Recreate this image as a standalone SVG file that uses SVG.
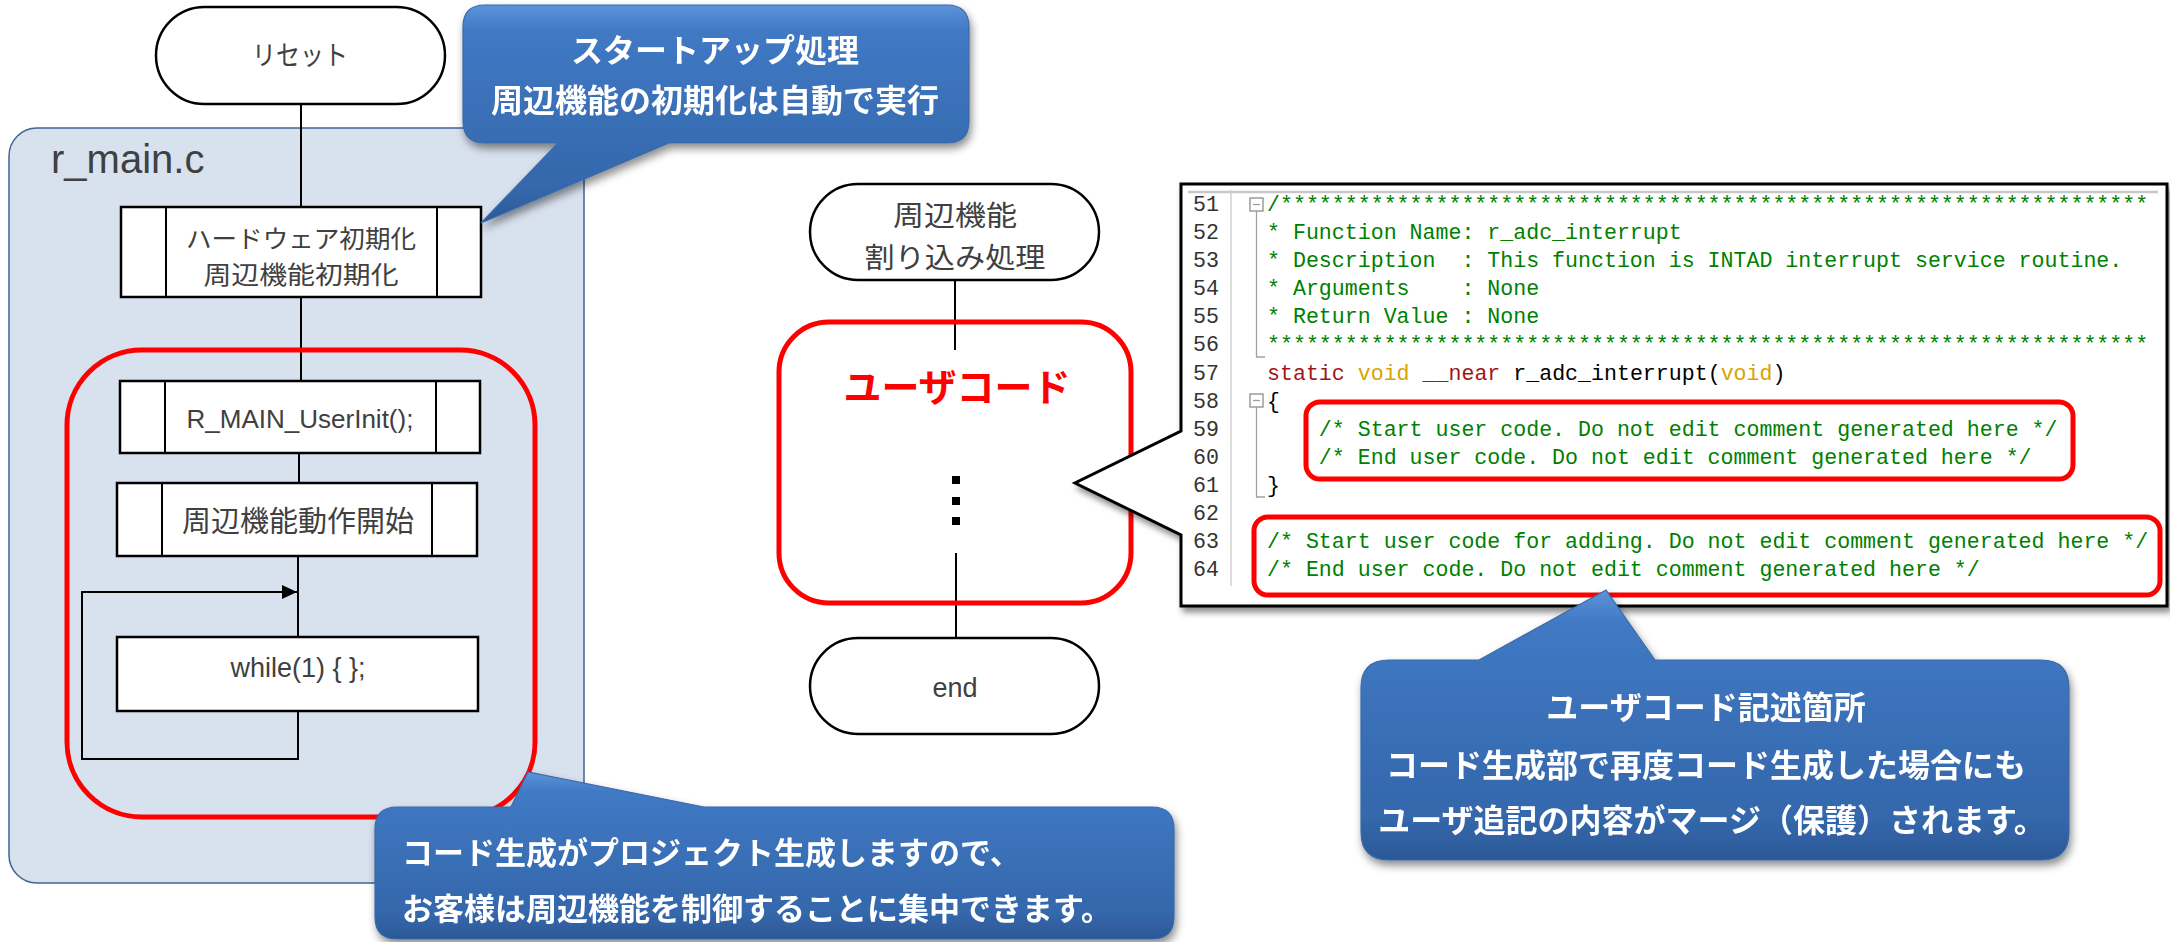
<svg xmlns="http://www.w3.org/2000/svg" width="2170" height="942" viewBox="0 0 2170 942">
<style>
.node{fill:#fff;stroke:#000;stroke-width:2.5}
.ln{fill:none;stroke:#000;stroke-width:2}
.jp{font-family:"Noto Sans CJK JP","Noto Sans",sans-serif;fill:#404040;text-anchor:middle}
.lat{font-family:"Liberation Sans",Arial,sans-serif;fill:#404040;text-anchor:middle}
.call{fill:url(#blueGrad);stroke:#3a6aa8;stroke-width:1.2}
.ct{font-family:"Noto Sans CJK JP",sans-serif;font-weight:bold;fill:#fff;font-size:32px;text-anchor:middle}
.redbox{fill:none;stroke:#ff0000;stroke-width:5}
.code{font-family:"Liberation Mono","DejaVu Sans Mono",monospace;font-size:21.6px;fill:#008000}
.num{font-family:"Liberation Mono","DejaVu Sans Mono",monospace;font-size:21.6px;fill:#333;text-anchor:end}
.fold{fill:#fff;stroke:#8c8c8c;stroke-width:1.3}
.foldln{fill:none;stroke:#a0a0a0;stroke-width:1.3}
</style>
<defs>
<linearGradient id="blueGrad" x1="0" y1="0" x2="0" y2="1">
<stop offset="0" stop-color="#5d93da"/>
<stop offset="0.12" stop-color="#4079c4"/>
<stop offset="0.85" stop-color="#3467ab"/>
<stop offset="1" stop-color="#2b5896"/>
</linearGradient>
<filter id="shadow" x="-10%" y="-10%" width="125%" height="135%">
<feDropShadow dx="2" dy="5" stdDeviation="4" flood-color="#000" flood-opacity="0.45"/>
</filter>
<filter id="shadow2" x="-5%" y="-5%" width="115%" height="120%">
<feDropShadow dx="3" dy="5" stdDeviation="3" flood-color="#000" flood-opacity="0.45"/>
</filter>
<marker id="arrow" markerUnits="userSpaceOnUse" markerWidth="16" markerHeight="16" refX="15" refY="8" orient="auto">
<path d="M0,1 L15,8 L0,15 Z" fill="#000"/>
</marker>
</defs>

<rect width="2170" height="942" fill="#fff"/>

<g id="r_main_panel">
<rect x="9" y="128" width="575" height="755" rx="28" fill="#d8e1ee" stroke="#3f6594" stroke-width="1.5"/>
<text x="51" y="173" style="font-family:'Liberation Sans',Arial,sans-serif;font-size:40px;fill:#404040">r_main.c</text>
</g>

<g id="connectors">
<path class="ln" d="M301,104 V207"/>
<path class="ln" d="M301,297 V381"/>
<path class="ln" d="M299,453 V483"/>
<path class="ln" d="M298,556 V637"/>
<path class="ln" d="M298,711 V759 H82 V592 H297" marker-end="url(#arrow)"/>
<path class="ln" d="M955,280 V350"/>
<path class="ln" d="M956,553 V638"/>
</g>

<g id="reset">
<rect class="node" x="156" y="7" width="289" height="97" rx="48.5"/>
<text class="jp" x="300" y="65" font-size="27" textLength="96" lengthAdjust="spacingAndGlyphs">リセット</text>
</g>

<g id="hw_init">
<rect class="node" x="121" y="207" width="360" height="90"/>
<line class="ln" x1="166" y1="207" x2="166" y2="297" stroke-width="2.5"/>
<line class="ln" x1="437" y1="207" x2="437" y2="297" stroke-width="2.5"/>
<text class="jp" x="301" y="248" font-size="24.5" textLength="230" lengthAdjust="spacingAndGlyphs">ハードウェア初期化</text>
<text class="jp" x="301" y="284" font-size="24.5" textLength="195" lengthAdjust="spacingAndGlyphs">周辺機能初期化</text>
</g>

<g id="user_area_left">
<rect class="redbox" x="67" y="350" width="468" height="467" rx="75"/>
</g>

<g id="user_init">
<rect class="node" x="120" y="381" width="360" height="72"/>
<line class="ln" x1="165" y1="381" x2="165" y2="453" stroke-width="2.5"/>
<line class="ln" x1="436" y1="381" x2="436" y2="453" stroke-width="2.5"/>
<text class="lat" x="300" y="428" font-size="26">R_MAIN_UserInit();</text>
</g>

<g id="periph_start">
<rect class="node" x="117" y="483" width="360" height="73"/>
<line class="ln" x1="162" y1="483" x2="162" y2="556" stroke-width="2.5"/>
<line class="ln" x1="432" y1="483" x2="432" y2="556" stroke-width="2.5"/>
<text class="jp" x="298" y="532" font-size="29">周辺機能動作開始</text>
</g>

<g id="while_loop">
<rect class="node" x="117" y="637" width="361" height="74"/>
<text class="lat" x="298" y="677" font-size="27">while(1) { };</text>
</g>

<g id="interrupt">
<rect class="node" x="810" y="184" width="289" height="96" rx="48"/>
<text class="jp" x="955" y="226" font-size="28" textLength="124" lengthAdjust="spacingAndGlyphs">周辺機能</text>
<text class="jp" x="955" y="268" font-size="28" textLength="181" lengthAdjust="spacingAndGlyphs">割り込み処理</text>
</g>

<g id="user_code_mid">
<rect class="redbox" x="779" y="322" width="352" height="281" rx="50"/>
<text x="957" y="401" style="font-family:'Noto Sans CJK JP',sans-serif;font-weight:bold;font-size:38px;fill:#ff0000;text-anchor:middle">ユーザコード</text>
<rect x="952" y="476" width="8" height="8" fill="#000"/>
<rect x="952" y="497" width="8" height="8" fill="#000"/>
<rect x="952" y="517" width="8" height="8" fill="#000"/>
</g>

<g id="end">
<rect class="node" x="810" y="638" width="289" height="96" rx="48"/>
<text class="lat" x="955" y="697" font-size="27">end</text>
</g>

<g id="code_panel">
<path d="M1181,184 H2167 V606 H1181 V535 L1075,483 L1181,431 Z" fill="#fff" stroke="#000" stroke-width="3" filter="url(#shadow2)"/>
<line x1="1188" y1="192" x2="2158" y2="192" stroke="#c8c8c8" stroke-width="2.5"/>
<line x1="1231" y1="190" x2="1231" y2="586" stroke="#d0d0d0" stroke-width="1.5"/>
<g class="nums">
<text class="num" x="1219" y="211">51</text>
<text class="num" x="1219" y="239">52</text>
<text class="num" x="1219" y="267">53</text>
<text class="num" x="1219" y="295">54</text>
<text class="num" x="1219" y="323">55</text>
<text class="num" x="1219" y="351">56</text>
<text class="num" x="1219" y="380">57</text>
<text class="num" x="1219" y="408">58</text>
<text class="num" x="1219" y="436">59</text>
<text class="num" x="1219" y="464">60</text>
<text class="num" x="1219" y="492">61</text>
<text class="num" x="1219" y="520">62</text>
<text class="num" x="1219" y="548">63</text>
<text class="num" x="1219" y="576">64</text>
</g>
<rect class="fold" x="1250" y="198" width="13" height="13"/>
<line class="foldln" x1="1253" y1="204.5" x2="1260" y2="204.5" stroke="#606060"/>
<path class="foldln" d="M1256.5,211 V357 H1265"/>
<rect class="fold" x="1250" y="394" width="13" height="13"/>
<line class="foldln" x1="1253" y1="400.5" x2="1260" y2="400.5" stroke="#606060"/>
<path class="foldln" d="M1256.5,407 V497 H1265"/>
<text class="code" x="1267" y="211" xml:space="preserve">/*******************************************************************</text>
<text class="code" x="1267" y="239" xml:space="preserve">* Function Name: r_adc_interrupt</text>
<text class="code" x="1267" y="267" xml:space="preserve">* Description  : This function is INTAD interrupt service routine.</text>
<text class="code" x="1267" y="295" xml:space="preserve">* Arguments    : None</text>
<text class="code" x="1267" y="323" xml:space="preserve">* Return Value : None</text>
<text class="code" x="1267" y="351" xml:space="preserve">********************************************************************</text>
<text class="code" x="1267" y="380" xml:space="preserve"><tspan fill="#a31515">static</tspan> <tspan fill="#d9a300">void</tspan> <tspan fill="#a31515">__near</tspan> <tspan fill="#000">r_adc_interrupt(</tspan><tspan fill="#d9a300">void</tspan><tspan fill="#000">)</tspan></text>
<text class="code" x="1267" y="408" style="fill:#000">{</text>
<text class="code" x="1267" y="436" xml:space="preserve">    /* Start user code. Do not edit comment generated here */</text>
<text class="code" x="1267" y="464" xml:space="preserve">    /* End user code. Do not edit comment generated here */</text>
<text class="code" x="1267" y="492" style="fill:#000">}</text>
<text class="code" x="1267" y="548" xml:space="preserve">/* Start user code for adding. Do not edit comment generated here */</text>
<text class="code" x="1267" y="576" xml:space="preserve">/* End user code. Do not edit comment generated here */</text>
<rect class="redbox" x="1306" y="402" width="767" height="77" rx="14"/>
<rect class="redbox" x="1254" y="517" width="906" height="78" rx="14"/>
</g>

<g id="callout_startup" filter="url(#shadow)">
<path class="call" d="M485,5 H947 Q969,5 969,27 V121 Q969,143 947,143 H669 L481,223 L558,143 H485 Q463,143 463,121 V27 Q463,5 485,5 Z"/>
<text class="ct" x="715" y="62">スタートアップ処理</text>
<text class="ct" x="715" y="112">周辺機能の初期化は自動で実行</text>
</g>

<g id="callout_codegen" filter="url(#shadow)">
<path class="call" d="M397,807 H511 L528,772 L704,807 H1152 Q1174,807 1174,829 V917 Q1174,939 1152,939 H397 Q375,939 375,917 V829 Q375,807 397,807 Z"/>
<text class="ct" x="402" y="864" style="text-anchor:start;font-size:31px">コード生成がプロジェクト生成しますので、</text>
<text class="ct" x="402" y="920" style="text-anchor:start;font-size:31px">お客様は周辺機能を制御することに集中できます。</text>
</g>

<g id="callout_usercode" filter="url(#shadow)">
<path class="call" d="M1389,660 H1479 L1606,590 L1655,660 H2041 Q2069,660 2069,688 V832 Q2069,860 2041,860 H1389 Q1361,860 1361,832 V688 Q1361,660 1389,660 Z"/>
<text class="ct" x="1706" y="719">ユーザコード記述箇所</text>
<text class="ct" x="1706" y="777">コード生成部で再度コード生成した場合にも</text>
<text class="ct" x="1712" y="832">ユーザ追記の内容がマージ（保護）されます。</text>
</g>
</svg>
